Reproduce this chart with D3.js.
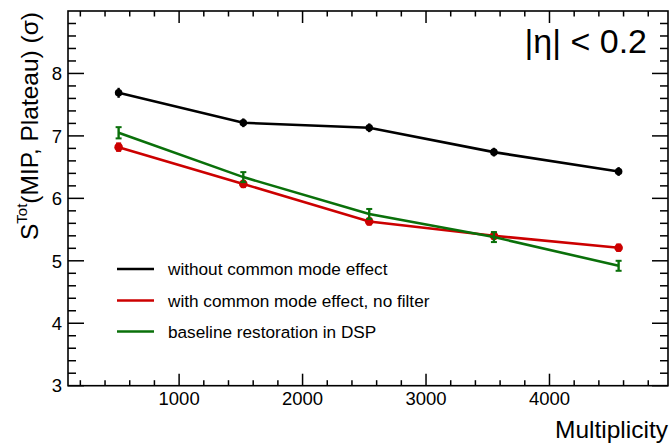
<!DOCTYPE html>
<html><head><meta charset="utf-8">
<script src="https://cdn.jsdelivr.net/npm/d3@7"></script>
<style>
html,body{margin:0;padding:0;background:#fff;}
svg{display:block;font-family:"Liberation Sans",Arial,Helvetica,sans-serif;}
</style></head>
<body><svg id="c" width="669" height="445"></svg>
<script>
const multiplicity = [510, 1520, 2540, 3550, 4560];
const seriesNames = ["without common mode effect", "with common mode effect, no filter", "baseline restoration in DSP"];
const seriesColors = ["#000000", "#cc0000", "#0a700a"];
const noCM   = [7.69, 7.21, 7.13, 6.74, 6.43];
const noCMErr = [0.08, 0.07, 0.07, 0.07, 0.07];
const withCM = [6.82, 6.23, 5.63, 5.40, 5.21];
const withCMErr = [0.06, 0.05, 0.05, 0.05, 0.05];
const dsp    = [7.05, 6.34, 5.75, 5.38, 4.92];
const dspErr = [0.09, 0.08, 0.08, 0.08, 0.08];
const xTicks = [1000, 2000, 3000, 4000];
const yTicks = [3, 4, 5, 6, 7, 8];
const xDomain = [100, 4960];
const yDomain = [3, 9];

const series = [
  {name: seriesNames[0], color: seriesColors[0], y: noCM, e: noCMErr, marker: 3.8, cap: 0},
  {name: seriesNames[1], color: seriesColors[1], y: withCM, e: withCMErr, marker: 4.3, cap: 2.5},
  {name: seriesNames[2], color: seriesColors[2], y: dsp, e: dspErr, marker: 0, cap: 3}
];

const svg = d3.select("#c");
const L = 68, R = 668, T = 11, B = 385.7;
const x = d3.scaleLinear().domain(xDomain).range([L, R]);
const y = d3.scaleLinear().domain(yDomain).range([B, T]);

const xMinor = d3.range(200, 4960, 200).filter(v => v % 1000 !== 0);
const yMinor = d3.range(3.2, 9, 0.2).map(v => +v.toFixed(1)).filter(v => Math.abs(v - Math.round(v)) > 1e-6);

const g = svg.append("g");
g.append("rect").attr("x", L).attr("y", T).attr("width", R - L).attr("height", B - T)
  .attr("fill", "none").attr("stroke", "#000").attr("stroke-width", 1.6);

function tickLines(vals, isX, len, side) {
  vals.forEach(v => {
    if (isX) {
      const px = x(v);
      if (side === "b") g.append("line").attr("x1", px).attr("x2", px).attr("y1", B).attr("y2", B - len);
      else g.append("line").attr("x1", px).attr("x2", px).attr("y1", T).attr("y2", T + len);
    } else {
      const py = y(v);
      if (side === "l") g.append("line").attr("y1", py).attr("y2", py).attr("x1", L).attr("x2", L + len);
      else g.append("line").attr("y1", py).attr("y2", py).attr("x1", R).attr("x2", R - len);
    }
  });
}
tickLines(xTicks, true, 12, "b"); tickLines(xTicks, true, 12, "t");
tickLines(xMinor, true, 5.5, "b"); tickLines(xMinor, true, 5.5, "t");
tickLines(yTicks, false, 16, "l"); tickLines(yTicks, false, 16, "r");
tickLines(yMinor, false, 8, "l"); tickLines(yMinor, false, 8, "r");
g.selectAll("line").attr("stroke", "#000").attr("stroke-width", 1.5);

svg.append("g").selectAll("text").data(xTicks).join("text")
  .attr("x", d => x(d)).attr("y", 405).attr("text-anchor", "middle")
  .attr("font-size", 18.5).text(d => d);
svg.append("g").selectAll("text").data(yTicks).join("text")
  .attr("x", 62).attr("y", d => y(d) + 6.7).attr("text-anchor", "end")
  .attr("font-size", 18.5).text(d => d);

svg.append("text").attr("x", 668).attr("y", 438).attr("text-anchor", "end")
  .attr("font-size", 24.5).text("Multiplicity");
const yt = svg.append("text").attr("transform", "translate(38,12) rotate(-90)")
  .attr("text-anchor", "end").attr("font-size", 24.5);
yt.append("tspan").text("S");
yt.append("tspan").attr("font-size", 15).attr("dy", -11).text("Tot");
yt.append("tspan").attr("dy", 11).text("(MIP, Plateau) (σ)");

svg.append("text").attr("x", 647).attr("y", 53).attr("text-anchor", "end")
  .attr("font-size", 34).text("|η| < 0.2");

const line = d3.line().x(d => x(d[0])).y(d => y(d[1]));
series.forEach(s => {
  const pts = multiplicity.map((m, i) => [m, s.y[i], s.e[i]]);
  const sg = svg.append("g");
  sg.append("path").attr("d", line(pts)).attr("fill", "none")
    .attr("stroke", s.color).attr("stroke-width", 2.6);
  pts.forEach(p => {
    const px = x(p[0]), y1 = y(p[1] + p[2]), y2 = y(p[1] - p[2]);
    sg.append("line").attr("x1", px).attr("x2", px).attr("y1", y1).attr("y2", y2)
      .attr("stroke", s.color).attr("stroke-width", 2.4);
    if (s.cap > 0) [y1, y2].forEach(yy => sg.append("line").attr("x1", px - s.cap).attr("x2", px + s.cap)
      .attr("y1", yy).attr("y2", yy).attr("stroke", s.color).attr("stroke-width", 2));
    if (s.marker > 0) sg.append("circle").attr("cx", px).attr("cy", y(p[1]))
      .attr("r", s.marker).attr("fill", s.color);
  });
});

const legY = [269, 300.5, 331.5];
series.forEach((s, i) => {
  svg.append("line").attr("x1", 117).attr("x2", 154).attr("y1", legY[i]).attr("y2", legY[i])
    .attr("stroke", s.color).attr("stroke-width", 2.6);
  svg.append("text").attr("x", 168).attr("y", legY[i] + 6).attr("font-size", 17.2).text(s.name);
});
</script></body></html>
